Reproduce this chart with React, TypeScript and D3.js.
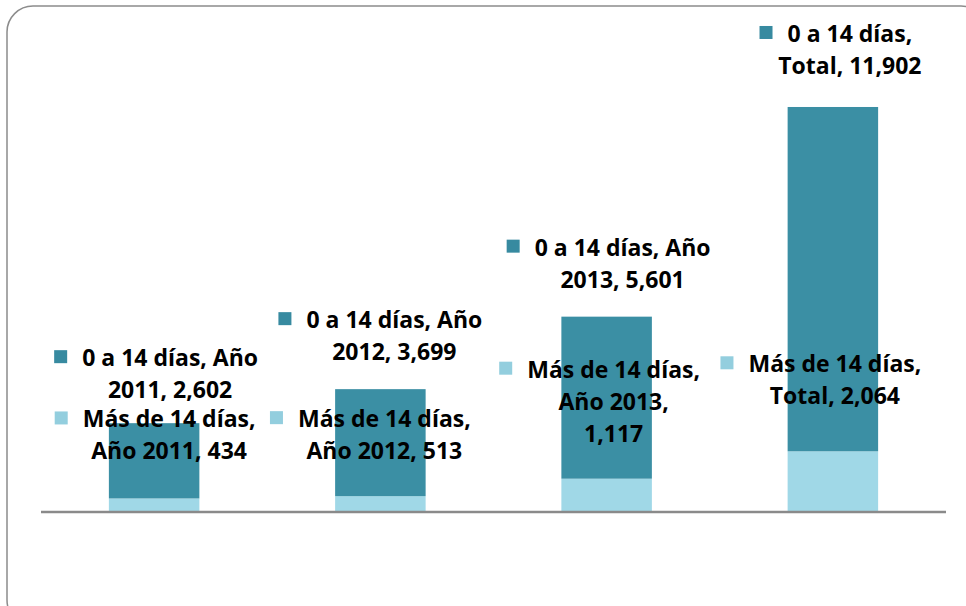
import * as d3 from "d3";

// categories + series values
const categories = ["Año 2011", "Año 2012", "Año 2013", "Total"];
const masDe14 = [434, 513, 1117, 2064];
const cero14 = [2602, 3699, 5601, 11902];

// label line breaks, like Excel wrapped them
const labelLines = [
  [
    ["Más de 14 días,", "Año 2011, 434"],
    ["Más de 14 días,", "Año 2012, 513"],
    ["Más de 14 días,", "Año 2013,", "1,117"],
    ["Más de 14 días,", "Total, 2,064"],
  ],
  [
    ["0 a 14 días, Año", "2011, 2,602"],
    ["0 a 14 días, Año", "2012, 3,699"],
    ["0 a 14 días, Año", "2013, 5,601"],
    ["0 a 14 días,", "Total, 11,902"],
  ],
];

// label offsets relative to bar center / segment top
const labelOffset = [
  [
    { dx: 15, dy: -80 },
    { dx: 4, dy: -78 },
    { dx: 7, dy: -110 },
    { dx: 2, dy: -88 },
  ],
  [
    { dx: 16, dy: -66 },
    { dx: 14, dy: -70 },
    { dx: 16, dy: -70 },
    { dx: 17, dy: -74 },
  ],
];

const W = 966;
const H = 606;
const colors = ["#a0d8e7", "#3b8fa4"];
const keyColors = ["#93cede", "#378aa0"];
const font = "'Open Sans', Lato, sans-serif";
const fontSize = 23;

let ctx: CanvasRenderingContext2D | null = null;
const measure = (t: string) => {
  if (!ctx) ctx = document.createElement("canvas").getContext("2d");
  if (!ctx) return t.length * 11;
  ctx.font = `bold ${fontSize}px ${font}`;
  return ctx.measureText(t).width;
};

const App = () => {
  const dims = { left: 41, right: 946, top: 106, bottom: 511 };

  const x = d3
    .scaleBand()
    .domain(categories)
    .range([dims.left, dims.right])
    .paddingInner(0.6)
    .paddingOuter(0.3);
  const y = d3.scaleLinear().domain([0, 14000]).range([dims.bottom, dims.top]);

  const rows = categories.map((c, i) => ({ cat: c, s0: masDe14[i], s1: cero14[i] }));
  const stacked = d3.stack().keys(["s0", "s1"])(rows as any);

  const lineH = 32;

  return (
    <svg
      width={W}
      height={H}
      style={{ position: "absolute", left: 0, top: 0, background: "#fff" }}
      fontFamily={font}
    >
      <rect x={7} y={6} width={980} height={620} rx={26} fill="#fff" stroke="#8c8c8c" strokeWidth={1.5} />

      {stacked.map((layer, si) => (
        <g key={si}>
          {layer.map((d, i) => (
            <rect
              key={i}
              x={x(categories[i])}
              y={y(d[1])}
              width={x.bandwidth()}
              height={y(d[0]) - y(d[1])}
              fill={colors[si]}
            />
          ))}
        </g>
      ))}

      <line x1={dims.left} x2={dims.right} y1={dims.bottom + 1} y2={dims.bottom + 1} stroke="#8a8a8a" strokeWidth={2.5} />

      {stacked.map((layer, si) => (
        <g key={"l" + si}>
          {layer.map((d, i) => {
            const cx = (x(categories[i]) as number) + x.bandwidth() / 2 + labelOffset[si][i].dx;
            const cy = y(d[1]) + labelOffset[si][i].dy;
            const lines = labelLines[si][i];
            const firstW = measure(lines[0]);
            return (
              <g key={i}>
                <rect x={cx - firstW / 2 - 28} y={cy - 7} width={13} height={13} fill={keyColors[si]} />
                {lines.map((t, li) => (
                  <text
                    key={li}
                    x={cx}
                    y={cy + li * lineH}
                    textAnchor="middle"
                    dominantBaseline="central"
                    fontSize={fontSize}
                    fontWeight="bold"
                    fill="#000"
                  >
                    {t}
                  </text>
                ))}
              </g>
            );
          })}
        </g>
      ))}
    </svg>
  );
};

export default App;
